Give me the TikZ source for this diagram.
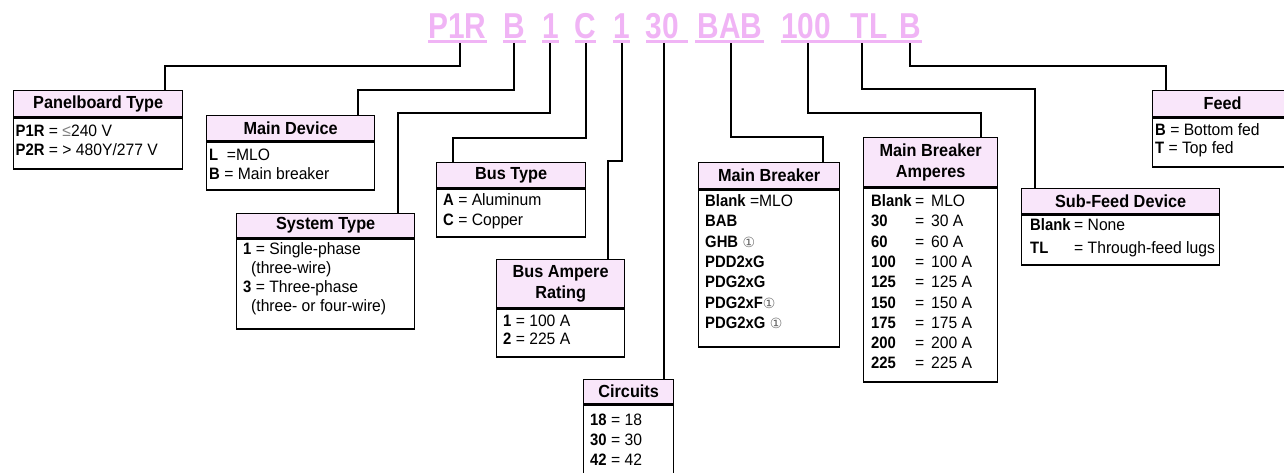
\documentclass[tikz,border=0pt]{standalone}
\usepackage{fontspec}
\setmainfont{Liberation Sans}
\newfontfamily\titlefont{Liberation Sans}[FakeStretch=0.83]
\newfontfamily\hdrfont{Liberation Sans}[FakeStretch=0.93]
\newfontfamily\bodyfont{Liberation Sans}[FakeStretch=0.95, BoldFeatures={FakeStretch=0.9}]
\newfontfamily\symfont{DejaVu Sans}
\definecolor{codepink}{RGB}{240,180,245}
\definecolor{hdrpink}{RGB}{249,230,250}
\newcommand\circone{{\symfont\fontsize{14}{14}\selectfont\textcolor{black!60}{①}}}
\newcommand\bodytab[2]{\fontsize{16.5}{#1}\selectfont\begin{tabular}[t]{@{}l@{}}#2\end{tabular}}
\tikzset{
  code/.style={font=\titlefont\bfseries\fontsize{36}{36}\selectfont, text=codepink, inner sep=0, anchor=base},
  uline/.style={draw=codepink, line width=2.5pt},
  conn/.style={draw=black, line width=2pt},
  hdr/.style={draw=black, line width=1.3pt, fill=hdrpink, inner sep=0, anchor=north west,
    font=\hdrfont\bfseries\fontsize{17.5}{21}\selectfont, align=center},
  bodybox/.style={draw=black, line width=1.3pt, fill=white, inner sep=0, anchor=north west},
  bodytxt/.style={inner sep=0, anchor=base west, font=\bodyfont\fontsize{16.5}{19}\selectfont},
}
\begin{document}
\begin{tikzpicture}[x=1pt,y=-1pt]
\useasboundingbox (0,0) rectangle (1284,472);

% code letters
\node[code] (c1) at (457.5,38) {P1R};
\node[code] (c2) at (514.5,38) {B};
\node[code] (c3) at (550.5,38) {1};
\node[code] (c4) at (585.5,38) {C};
\node[code] (c5) at (621.5,38) {1};
\node[code] (c6) at (662,38) {30};
\node[code] (c7) at (730,38) {BAB};
\node[code] (c8) at (806,38) {100};
\node[code] (c9) at (869,38) {TL};
\node[code] (c10) at (910,38) {B};
\draw[uline] (428,41.5) -- (487,41.5);
\draw[uline] (503,41.5) -- (526,41.5);
\draw[uline] (542,41.5) -- (559,41.5);
\draw[uline] (575,41.5) -- (596,41.5);
\draw[uline] (613,41.5) -- (630,41.5);
\draw[uline] (646,41.5) -- (688,41.5);
\draw[uline] (695,41.5) -- (764,41.5);
\draw[uline] (781,41.5) -- (922,41.5);

% tick points
\coordinate (k1) at (460,43);
\coordinate (k2) at (514,43);
\coordinate (k3) at (550,43);
\coordinate (k4) at (586,43);
\coordinate (k5) at (622,43);
\coordinate (k6) at (664,43);
\coordinate (k7) at (731,43);
\coordinate (k8) at (808,43);
\coordinate (k9) at (862,43);
\coordinate (k10) at (910,43);

% boxes
\node[hdr, minimum width=169, minimum height=26] (pb) at (13,90) {Panelboard Type};
\node[bodybox, minimum width=169, minimum height=51] (pbB) at (pb.south west) {};
\node[bodytxt] (pbT) at (15.5,136) {\bodytab{19}{\textbf{P1R} = \textcolor{gray}{≤}240 V\\ \textbf{P2R} = > 480Y/277 V}};

\node[hdr, minimum width=168, minimum height=25] (md) at (206,115) {Main Device};
\node[bodybox, minimum width=168, minimum height=48] (mdB) at (md.south west) {};
\node[bodytxt] (mdT) at (209,160) {\bodytab{19}{\textbf{L}\ \ =MLO\\ \textbf{B} = Main breaker}};

\node[hdr, minimum width=178, minimum height=24] (st) at (236,213) {System Type};
\node[bodybox, minimum width=178, minimum height=90] (stB) at (st.south west) {};
\node[bodytxt] (stT) at (243,254) {\bodytab{19}{\textbf{1} = Single-phase\\ \hspace{8pt}(three-wire)\\ \textbf{3} = Three-phase\\ \hspace{8pt}(three- or four-wire)}};

\node[hdr, minimum width=149, minimum height=25] (bt) at (436,162) {Bus Type};
\node[bodybox, minimum width=149, minimum height=48] (btB) at (bt.south west) {};
\node[bodytxt] (btT) at (443,205) {\bodytab{20}{\textbf{A} = Aluminum\\ \textbf{C} = Copper}};

\node[hdr, minimum width=128, minimum height=48] (bar) at (496,259) {Bus Ampere\\Rating};
\node[bodybox, minimum width=128, minimum height=48] (barB) at (bar.south west) {};
\node[bodytxt] (barT) at (503,326) {\bodytab{18}{\textbf{1} = 100 A\\ \textbf{2} = 225 A}};

\node[hdr, minimum width=90, minimum height=24] (ci) at (583,379) {Circuits};
\node[bodybox, minimum width=90, minimum height=71] (ciB) at (ci.south west) {};
\node[bodytxt] (ciT) at (590,425) {\bodytab{20}{\textbf{18} = 18\\ \textbf{30} = 30\\ \textbf{42} = 42}};

\node[hdr, minimum width=141, minimum height=26] (mb) at (698,162) {Main Breaker};
\node[bodybox, minimum width=141, minimum height=157] (mbB) at (mb.south west) {};
\node[bodytxt] (mbT) at (705,206.5) {\bodytab{20.3}{\textbf{Blank} =MLO\\ \textbf{BAB}\\ \textbf{GHB} \circone\\ \textbf{PDD2xG}\\ \textbf{PDG2xG}\\ \textbf{PDG2xF}\circone\\ \textbf{PDG2xG} \circone}};

\node[hdr, minimum width=134, minimum height=49] (mba) at (863,137) {Main Breaker\\Amperes};
\node[bodybox, minimum width=134, minimum height=194] (mbaB) at (mba.south west) {};
\node[bodytxt] (mbaT) at (871,206.5) {\bodytab{20.3}{%
\makebox[44pt][l]{\textbf{Blank}}\makebox[16pt][l]{=}MLO\\
\makebox[44pt][l]{\textbf{30}}\makebox[16pt][l]{=}30 A\\
\makebox[44pt][l]{\textbf{60}}\makebox[16pt][l]{=}60 A\\
\makebox[44pt][l]{\textbf{100}}\makebox[16pt][l]{=}100 A\\
\makebox[44pt][l]{\textbf{125}}\makebox[16pt][l]{=}125 A\\
\makebox[44pt][l]{\textbf{150}}\makebox[16pt][l]{=}150 A\\
\makebox[44pt][l]{\textbf{175}}\makebox[16pt][l]{=}175 A\\
\makebox[44pt][l]{\textbf{200}}\makebox[16pt][l]{=}200 A\\
\makebox[44pt][l]{\textbf{225}}\makebox[16pt][l]{=}225 A}};

\node[hdr, minimum width=198, minimum height=25] (sf) at (1021,188) {Sub-Feed Device};
\node[bodybox, minimum width=198, minimum height=50] (sfB) at (sf.south west) {};
\node[bodytxt] (sfT) at (1030,230) {\bodytab{23}{%
\makebox[44pt][l]{\textbf{Blank}}= None\\
\makebox[44pt][l]{\textbf{TL}}= Through-feed lugs}};

\node[hdr, minimum width=140, minimum height=26] (fd) at (1152,90) {Feed};
\node[bodybox, minimum width=140, minimum height=49] (fdB) at (fd.south west) {};
\node[bodytxt] (fdT) at (1155,135) {\bodytab{18}{\textbf{B} = Bottom fed\\ \textbf{T} = Top fed}};

% connectors
\draw[conn] (k1) |- (165,66) -- (pb.north -| 165,0);
\draw[conn] (k2) |- (358,90) -- (md.north -| 358,0);
\draw[conn] (k3) |- (398,113) -- (st.north -| 398,0);
\draw[conn] (k4) |- (453,138) -- (bt.north -| 453,0);
\draw[conn] (k5) |- (608,161) -- (bar.north -| 608,0);
\draw[conn] (k6) -- (ci.north -| 664,0);
\draw[conn] (k7) |- (823,137) -- (mb.north -| 823,0);
\draw[conn] (k8) |- (981,113) -- (mba.north -| 981,0);
\draw[conn] (k9) |- (1035,89) -- (sf.north -| 1035,0);
\draw[conn] (k10) |- (1166,66) -- (fd.north -| 1166,0);
\end{tikzpicture}
\end{document}
